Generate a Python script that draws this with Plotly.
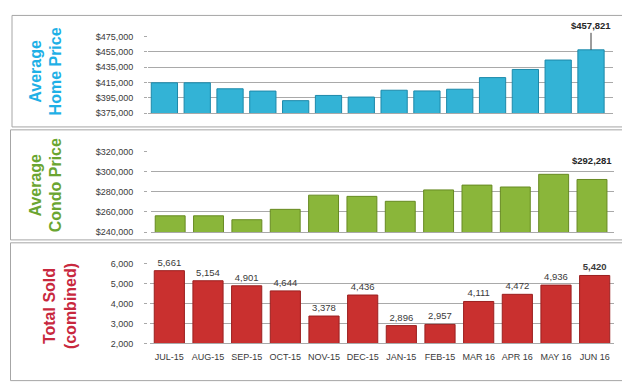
import plotly.graph_objects as go

W, H = 630, 382

# ---------------- data ----------------
home_months = ["MAY-15", "JUN-15", "JUL-15", "AUG-15", "SEP-15", "OCT-15", "NOV-15",
               "DEC-15", "JAN-16", "FEB-16", "MAR-16", "APR-16", "MAY-16", "JUN-16"]
home_price = [414800, 414800, 407000, 404000, 391500, 398300, 396200,
              405100, 404200, 406400, 421600, 432200, 444500, 457821]

months = ["JUL-15", "AUG-15", "SEP-15", "OCT-15", "NOV-15", "DEC-15",
          "JAN-15", "FEB-15", "MAR 16", "APR 16", "MAY 16", "JUN 16"]
condo_price = [256200, 256200, 252300, 262600, 276700, 275500,
               270600, 281900, 286700, 284800, 297400, 292281]
total_sold = [5661, 5154, 4901, 4644, 3378, 4436, 2896, 2957, 4111, 4472, 4936, 5420]

home_ticks = [375000, 395000, 415000, 435000, 455000, 475000]
condo_ticks = [240000, 260000, 280000, 300000, 320000]
sold_ticks = [2000, 3000, 4000, 5000, 6000]

# ---------------- helpers ----------------
def px_x(p):
    return p / W

def px_y(p):
    return 1 - p / H

FONT = "Liberation Sans"
GRID = "#a9a9a9"
TXT = "#3a3a3a"

fig = go.Figure()

fig.add_trace(go.Bar(
    x=home_months, y=home_price, xaxis="x", yaxis="y", width=0.8,
    marker=dict(color="#33b3d6", line=dict(color="#1d89aa", width=1)),
    hoverinfo="x+y", showlegend=False))

fig.add_trace(go.Bar(
    x=months, y=condo_price, xaxis="x2", yaxis="y2", width=0.78,
    marker=dict(color="#8ab63a", line=dict(color="#678a22", width=1)),
    hoverinfo="x+y", showlegend=False))

sold_text = [f"{v:,}" for v in total_sold]
sold_text[-1] = f"<b>{sold_text[-1]}</b>"
fig.add_trace(go.Bar(
    x=months, y=total_sold, xaxis="x3", yaxis="y3", width=0.78,
    marker=dict(color="#c9302f", line=dict(color="#9b1f1f", width=1)),
    text=sold_text, textposition="outside", cliponaxis=False,
    textfont=dict(family=FONT, size=9.5, color=TXT),
    hoverinfo="x+y", showlegend=False))

def yax(domain, ticks, fmt):
    return dict(domain=domain, range=[ticks[0], ticks[-1]], tickvals=ticks,
                tickformat=fmt, showgrid=True, gridcolor=GRID, gridwidth=1,
                ticks="outside", ticklen=3, tickcolor=GRID, showline=False,
                zeroline=False, ticklabelstandoff=9,
                tickfont=dict(family=FONT, size=9, color=TXT), fixedrange=True)

def xax(domain, anchor, show):
    return dict(domain=domain, anchor=anchor, showticklabels=show, ticks="",
                showline=True, linecolor=GRID, linewidth=1, showgrid=False,
                ticklabelstandoff=5,
                tickfont=dict(family=FONT, size=9, color=TXT), fixedrange=True)

fig.update_layout(
    width=W, height=H, margin=dict(l=0, r=0, t=0, b=0),
    paper_bgcolor="white", plot_bgcolor="white",
    barmode="group",
    xaxis=xax([px_x(140), px_x(605)], "y", False),
    yaxis=yax([px_y(103), px_y(24.3)], home_ticks, "$,.0f"),
    xaxis2=xax([px_x(143), px_x(606)], "y2", False),
    yaxis2=yax([px_y(225), px_y(142.3)], condo_ticks, "$,.0f"),
    xaxis3=xax([px_x(142), px_x(606)], "y3", True),
    yaxis3=yax([px_y(339.3), px_y(257.7)], sold_ticks, ",.0f"),
)

# panel borders
for (x0, y0, x1, y1) in [(4, 2.5, 626, 117), (2.5, 120, 625, 233), (2.5, 236, 625, 377.5)]:
    fig.add_shape(type="rect", xref="paper", yref="paper",
                  x0=px_x(x0), x1=px_x(x1), y0=px_y(y1), y1=px_y(y0),
                  line=dict(color="#a6a6a6", width=1), fillcolor="rgba(0,0,0,0)", layer="below")

# value call-outs
fig.add_annotation(x=home_months[-1], y=home_price[-1], xref="x", yref="y",
                   text=f"<b>${home_price[-1]:,}</b>", showarrow=True, arrowhead=0,
                   arrowwidth=1, arrowcolor=TXT, ax=0, ay=-24,
                   font=dict(family=FONT, size=9.5, color="#262626"))
fig.add_annotation(x=months[-1], y=condo_price[-1], xref="x2", yref="y2",
                   text=f"<b>${condo_price[-1]:,}</b>", showarrow=False, yshift=19,
                   font=dict(family=FONT, size=9.5, color="#262626"))

# panel titles
for text, color, cx, cy in [("Average<br>Home Price", "#1fb0e6", 38, 60),
                            ("Average<br>Condo Price", "#6aa531", 38, 177),
                            ("Total Sold<br>(combined)", "#c8283e", 52, 301)]:
    fig.add_annotation(xref="paper", yref="paper", x=px_x(cx), y=px_y(cy),
                       text=f"<b>{text}</b>", showarrow=False, textangle=-90,
                       xanchor="center", yanchor="middle",
                       font=dict(family=FONT, size=16, color=color))

fig.write_html("out.html")
